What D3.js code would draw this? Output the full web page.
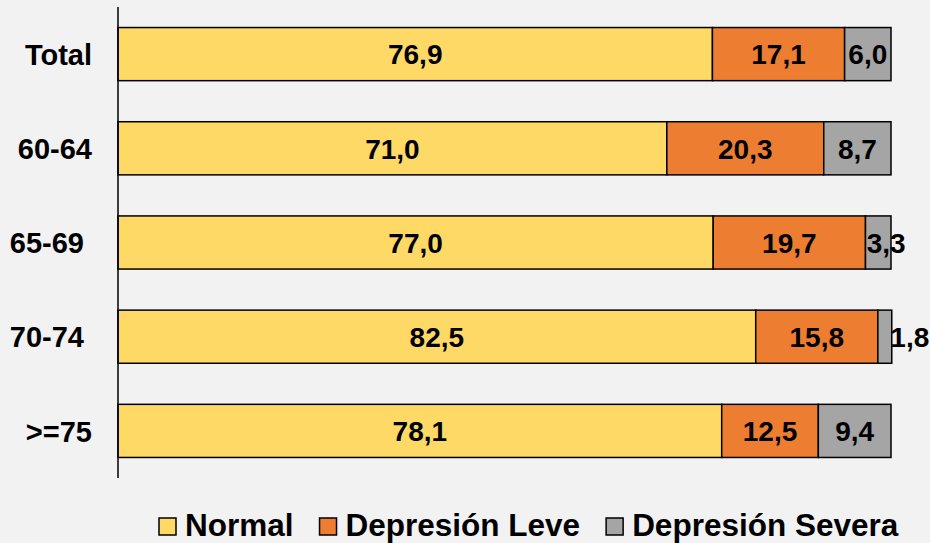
<!DOCTYPE html>
<html>
<head>
<meta charset="utf-8">
<script src="https://cdn.jsdelivr.net/npm/d3@7"></script>
<style>
  html, body { margin: 0; padding: 0; background: #f2f2f2; }
  #chart { width: 930px; height: 543px; }
  text { font-family: "Liberation Sans", Arial, sans-serif; font-weight: bold; white-space: pre; }
</style>
</head>
<body>
<div id="chart"></div>
<script>
const categories = ["Total", "60-64", "65-69 ", "70-74 ", ">=75"];
const seriesNames = ["Normal", "Depresión Leve", "Depresión Severa"];
const normal = [76.9, 71.0, 77.0, 82.5, 78.1];
const leve = [17.1, 20.3, 19.7, 15.8, 12.5];
const severa = [6.0, 8.7, 3.3, 1.8, 9.4];
const colors = ["#FFD966", "#ED7D31", "#A5A5A5"];

const width = 930, height = 543;
const fmt = v => d3.format(".1f")(v).replace(".", ",");

const svg = d3.select("#chart")
    .append("svg")
    .attr("width", width)
    .attr("height", height);

const xScale = d3.scaleLinear()
    .domain([0, 100])
    .range([118, 891]);

const yScale = d3.scaleBand()
    .domain(categories)
    .range([7, 478])
    .paddingInner(0.436)
    .paddingOuter(0.218);

// build stacked rows
const rows = categories.map((c, i) => ({
    cat: c, Normal: normal[i], "Depresión Leve": leve[i], "Depresión Severa": severa[i]
}));
const stacked = d3.stack().keys(seriesNames)(rows);

// small segments: nudge the label sideways like the original
const labelShift = { "65-69 |Depresión Severa": 8, "70-74 |Depresión Severa": 25 };

stacked.forEach((layer, si) => {
    const g = svg.append("g");
    g.selectAll("rect")
        .data(layer)
        .join("rect")
        .attr("x", d => xScale(d[0]))
        .attr("y", d => yScale(d.data.cat))
        .attr("width", d => xScale(d[1]) - xScale(d[0]))
        .attr("height", yScale.bandwidth())
        .attr("fill", colors[si])
        .attr("stroke", "#000")
        .attr("stroke-width", 1.5);

    g.selectAll("text")
        .data(layer)
        .join("text")
        .attr("x", d => (xScale(d[0]) + xScale(d[1])) / 2 + (labelShift[d.data.cat + "|" + layer.key] || 0))
        .attr("y", d => yScale(d.data.cat) + yScale.bandwidth() / 2)
        .attr("dy", "0.37em")
        .attr("text-anchor", "middle")
        .attr("font-size", 28)
        .attr("fill", "#000")
        .text(d => fmt(d[1] - d[0]));
});

// vertical axis line
svg.append("line")
    .attr("x1", 118).attr("x2", 118)
    .attr("y1", 7).attr("y2", 478)
    .attr("stroke", "#000")
    .attr("stroke-width", 1.5);

// category labels
svg.append("g")
    .selectAll("text")
    .data(categories)
    .join("text")
    .attr("x", 92)
    .attr("y", d => yScale(d) + yScale.bandwidth() / 2)
    .attr("dy", "0.37em")
    .attr("text-anchor", "end")
    .attr("font-size", 29)
    .text(d => d);

// legend
const legend = svg.append("g");
let lx = 159;
seriesNames.forEach((name, i) => {
    legend.append("rect")
        .attr("x", lx).attr("y", 518)
        .attr("width", 17).attr("height", 17)
        .attr("fill", colors[i])
        .attr("stroke", "#000")
        .attr("stroke-width", 1.5);
    const t = legend.append("text")
        .attr("x", lx + 26)
        .attr("y", 536)
        .attr("font-size", 31.5)
        .text(name);
    lx = lx + 26 + t.node().getComputedTextLength() + 26;
});
</script>
</body>
</html>
